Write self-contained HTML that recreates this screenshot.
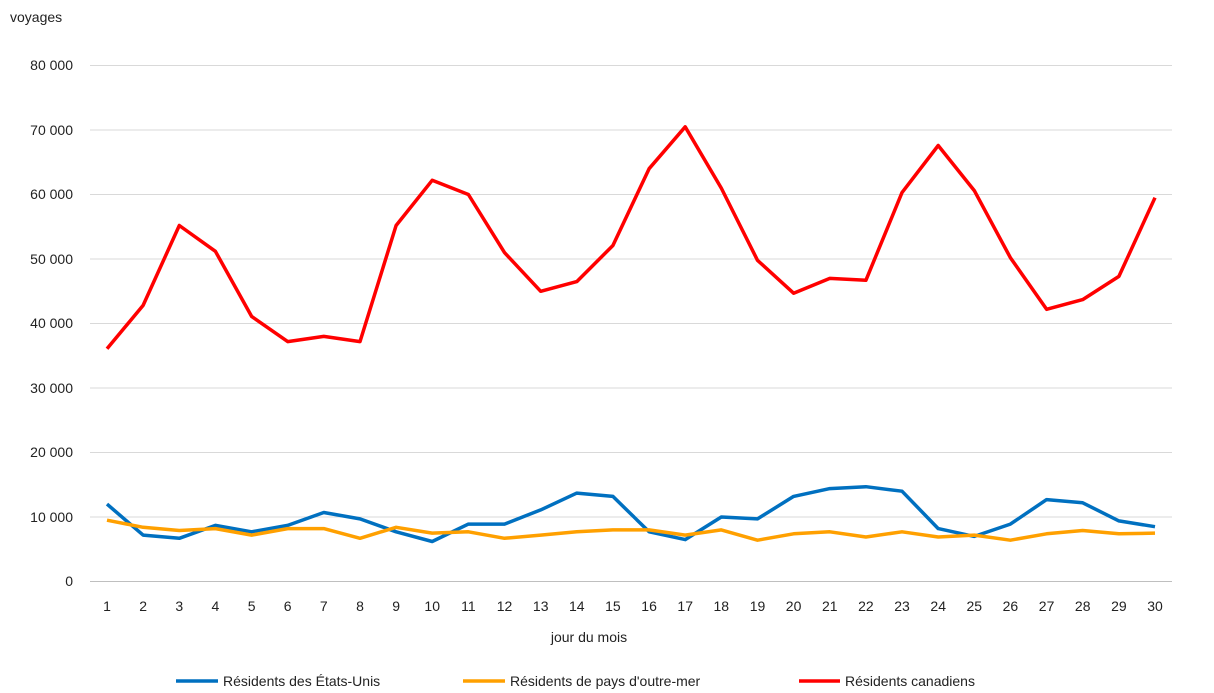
<!DOCTYPE html>
<html><head><meta charset="utf-8"><style>
html,body{margin:0;padding:0;background:#fff;}
svg{display:block;font-family:"Liberation Sans",Arial,sans-serif;}
</style></head><body>
<svg width="1214" height="693" viewBox="0 0 1214 693" xmlns="http://www.w3.org/2000/svg">
<rect width="1214" height="693" fill="#fff"/>
<text x="10" y="22" font-size="14" fill="#222">voyages</text>
<g stroke="#d9d9d9" stroke-width="1">
<line x1="90" x2="1172" y1="65.5" y2="65.5"/>
<line x1="90" x2="1172" y1="130" y2="130"/>
<line x1="90" x2="1172" y1="194.5" y2="194.5"/>
<line x1="90" x2="1172" y1="259" y2="259"/>
<line x1="90" x2="1172" y1="323.5" y2="323.5"/>
<line x1="90" x2="1172" y1="388" y2="388"/>
<line x1="90" x2="1172" y1="452.5" y2="452.5"/>
<line x1="90" x2="1172" y1="517" y2="517"/>
</g>
<line x1="90" x2="1172" y1="581.5" y2="581.5" stroke="#bfbfbf"/>
<g font-size="14" fill="#222" text-anchor="end">
<text x="73" y="70">80 000</text><text x="73" y="135">70 000</text><text x="73" y="199">60 000</text>
<text x="73" y="264">50 000</text><text x="73" y="328">40 000</text><text x="73" y="393">30 000</text>
<text x="73" y="457">20 000</text><text x="73" y="522">10 000</text><text x="73" y="586">0</text>
</g>
<g font-size="14" fill="#222" text-anchor="middle">
<text x="107.0" y="611">1</text><text x="143.1" y="611">2</text><text x="179.3" y="611">3</text><text x="215.4" y="611">4</text><text x="251.6" y="611">5</text>
<text x="287.7" y="611">6</text><text x="323.8" y="611">7</text><text x="360.0" y="611">8</text><text x="396.1" y="611">9</text><text x="432.2" y="611">10</text>
<text x="468.4" y="611">11</text><text x="504.5" y="611">12</text><text x="540.7" y="611">13</text><text x="576.8" y="611">14</text><text x="612.9" y="611">15</text>
<text x="649.1" y="611">16</text><text x="685.2" y="611">17</text><text x="721.3" y="611">18</text><text x="757.5" y="611">19</text><text x="793.6" y="611">20</text>
<text x="829.8" y="611">21</text><text x="865.9" y="611">22</text><text x="902.0" y="611">23</text><text x="938.2" y="611">24</text><text x="974.3" y="611">25</text>
<text x="1010.4" y="611">26</text><text x="1046.6" y="611">27</text><text x="1082.7" y="611">28</text><text x="1118.9" y="611">29</text><text x="1155.0" y="611">30</text>
</g>
<text x="589" y="642" font-size="14" fill="#222" text-anchor="middle">jour du mois</text>
<g fill="none" stroke-width="3.5" stroke-linejoin="round">
<polyline id="pb" stroke="#0070C0"/>
<polyline id="po" stroke="#FFA000"/>
<polyline id="pr" stroke="#FF0000"/>
</g>
<line x1="176" x2="218" y1="681" y2="681" stroke="#0070C0" stroke-width="3.5"/>
<text x="223" y="686" font-size="14" fill="#222">Résidents des États-Unis</text>
<line x1="463" x2="505" y1="681" y2="681" stroke="#FFA000" stroke-width="3.5"/>
<text x="510" y="686" font-size="14" fill="#222">Résidents de pays d'outre-mer</text>
<line x1="799" x2="840" y1="681" y2="681" stroke="#FF0000" stroke-width="3.5"/>
<text x="845" y="686" font-size="14" fill="#222">Résidents canadiens</text>
<script>
var r=[36100,42800,55200,51200,41100,37200,38000,37200,55200,62200,60000,51000,45000,46500,52100,64000,70500,61000,49800,44700,47000,46700,60300,67600,60600,50200,42200,43700,47300,59500];
var b=[12000,7200,6700,8700,7700,8700,10700,9700,7700,6200,8900,8900,11100,13700,13200,7700,6500,10000,9700,13200,14400,14700,14000,8200,7000,8900,12700,12200,9400,8500];
var o=[9500,8400,7900,8200,7200,8200,8200,6700,8400,7500,7700,6700,7200,7700,8000,8000,7200,8000,6400,7400,7700,6900,7700,6900,7200,6400,7400,7900,7400,7500];
function X(i){return 107+i*1048/29;}
function Y(v){return 581.5-v*64.5/10000;}
function pts(a){return a.map(function(v,i){return X(i).toFixed(1)+","+Y(v).toFixed(1)}).join(" ");}
document.getElementById("pr").setAttribute("points",pts(r));
document.getElementById("pb").setAttribute("points",pts(b));
document.getElementById("po").setAttribute("points",pts(o));
</script>
</svg>
</body></html>
